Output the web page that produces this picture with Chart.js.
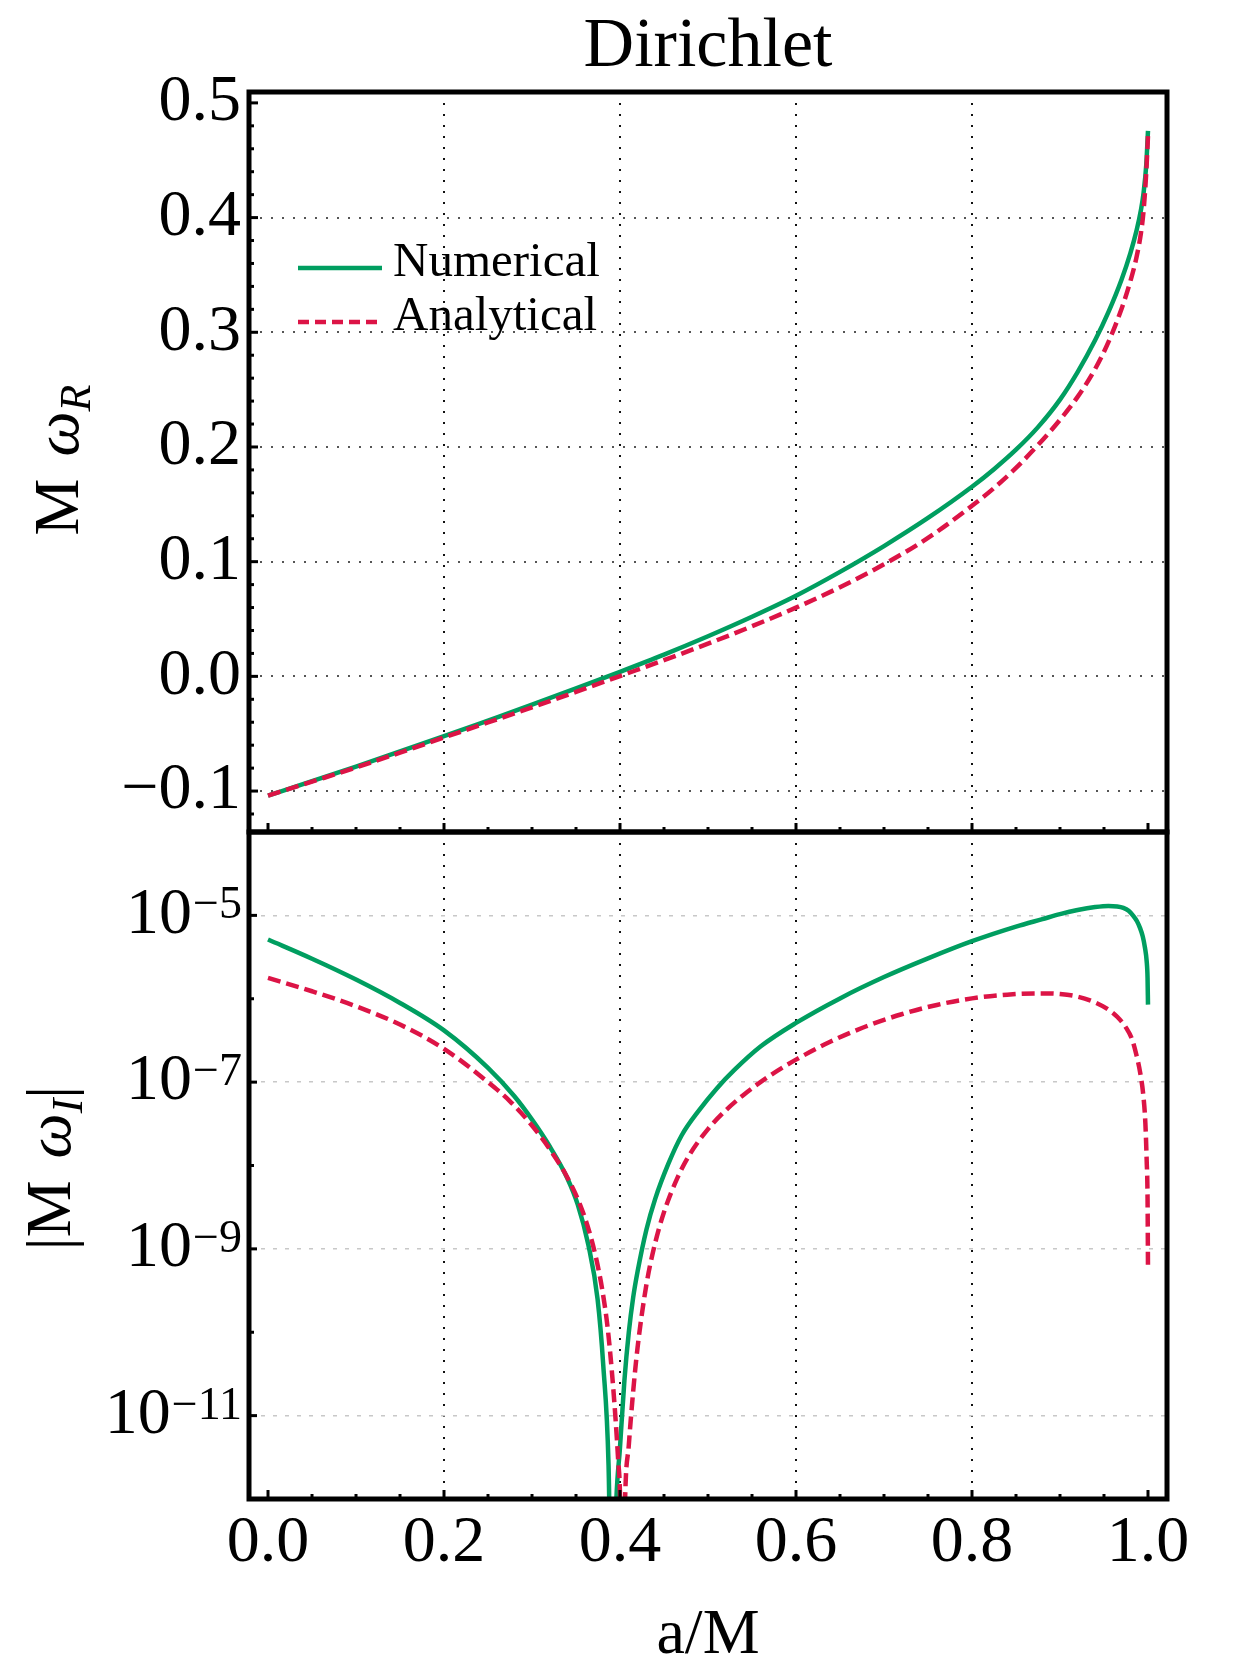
<!DOCTYPE html>
<html>
<head>
<meta charset="utf-8">
<title>Dirichlet</title>
<script src="https://cdn.jsdelivr.net/npm/chart.js@4.4.1/dist/chart.umd.min.js"></script>
<style>
  body { margin: 0; background: #fff; }
  #wrap { position: relative; width: 1250px; height: 1667px; }
  #wrap canvas { position: absolute; left: 0; top: 0; }
</style>
</head>
<body>
<div id="wrap">
  <canvas id="realChart" width="1250" height="1667"></canvas>
  <canvas id="imagChart" width="1250" height="1667"></canvas>
</div>
<script>
// ---- data ----
// top panel: M omega_R against a/M
const spinNumR = [0, 0.05, 0.1, 0.15, 0.2, 0.25, 0.3, 0.35, 0.4, 0.45, 0.5, 0.55, 0.6, 0.65, 0.7, 0.75, 0.8, 0.825, 0.85, 0.875,
  0.9, 0.92, 0.94, 0.955, 0.97, 0.98, 0.987, 0.992, 0.995, 0.998, 1];
const omegaNumR = [-0.104, -0.0914, -0.0786, -0.0655, -0.0522, -0.0385, -0.0247, -0.0105, 0.004, 0.019, 0.035, 0.052, 0.0703, 0.0911, 0.1136, 0.1381, 0.1653, 0.1806, 0.1976, 0.2173,
  0.2413, 0.2653, 0.2933, 0.3176, 0.3461, 0.3691, 0.3887, 0.4067, 0.4217, 0.4457, 0.4757];
const spinAnaR = [0, 0.05, 0.1, 0.15, 0.2, 0.25, 0.3, 0.35, 0.4, 0.45, 0.5, 0.55, 0.6, 0.65, 0.7, 0.75, 0.8, 0.825, 0.85, 0.875,
  0.9, 0.92, 0.94, 0.955, 0.97, 0.98, 0.987, 0.992, 0.995, 0.998, 1];
const omegaAnaR = [-0.104, -0.0918, -0.0795, -0.0665, -0.0533, -0.0402, -0.027, -0.0135, 0.0003, 0.0141, 0.0285, 0.0437, 0.0599, 0.0777, 0.0977, 0.1207, 0.1487, 0.1642, 0.1817, 0.2017,
  0.2237, 0.2437, 0.2681, 0.2914, 0.3206, 0.3446, 0.3656, 0.3866, 0.4061, 0.4391, 0.4711];

// bottom panel: |M omega_I| against a/M
const spinNumI = [0, 0.05, 0.1, 0.15, 0.2, 0.25, 0.28, 0.3, 0.32, 0.34, 0.352, 0.364, 0.3745, 0.381, 0.387, 0.3912,
  0.3955, 0.4, 0.405, 0.41, 0.415, 0.42, 0.43, 0.44, 0.455, 0.47, 0.49, 0.51, 0.53, 0.56, 0.6, 0.65, 0.7, 0.75, 0.8, 0.85,
  0.88, 0.9, 0.92, 0.94, 0.955, 0.965, 0.972, 0.978, 0.9833, 0.9875, 0.9909, 0.994, 0.9966, 0.9985, 0.9995, 1];
const omegaNumI = [5.13e-6, 3.02e-6, 1.7e-6, 8.91e-7, 4.17e-7, 1.48e-7, 6.76e-8, 3.55e-8, 1.7e-8, 7.08e-9, 3.39e-9, 1.12e-9, 2.51e-10, 3.98e-11, 2.51e-12, 1e-14,
  7.94e-13, 4.17e-12, 2.63e-11, 1.0e-10, 2.63e-10, 5.37e-10, 1.7e-9, 3.98e-9, 1.05e-8, 2.29e-8, 4.62e-8, 8.41e-8, 1.4e-7, 2.69e-7, 5.13e-7, 1.01e-6, 1.82e-6, 3.05e-6, 4.9e-6, 7.33e-6,
  9.02e-6, 1.035e-5, 1.16e-5, 1.26e-5, 1.3e-5, 1.28e-5, 1.23e-5, 1.135e-5, 9.89e-6, 8.51e-6, 7.08e-6, 5.62e-6, 4.07e-6, 2.82e-6, 1.78e-6, 8.51e-7];
const spinAnaI = [0, 0.05, 0.1, 0.15, 0.2, 0.25, 0.275, 0.3, 0.32, 0.34, 0.355, 0.365, 0.373, 0.38, 0.386, 0.391, 0.395, 0.398, 0.4, 0.4028,
  0.4057, 0.41, 0.415, 0.42, 0.43, 0.44, 0.45, 0.465, 0.48, 0.5, 0.52, 0.54, 0.57, 0.6, 0.64, 0.68, 0.72, 0.76, 0.8, 0.84,
  0.87, 0.885, 0.9, 0.92, 0.94, 0.955, 0.965, 0.975, 0.982, 0.987, 0.991, 0.9947, 0.997, 0.9985, 0.9995, 1];
const omegaAnaI = [1.78e-6, 1.23e-6, 8.13e-7, 4.9e-7, 2.51e-7, 1.0e-7, 5.89e-8, 3.02e-8, 1.58e-8, 7.24e-9, 3.31e-9, 1.62e-9, 7.59e-10, 3.16e-10, 1.12e-10, 3.16e-11, 8.91e-12, 2.82e-12, 1.12e-12, 1e-14,
  9.12e-13, 4.42e-12, 1.97e-11, 6.61e-11, 3.72e-10, 1.18e-9, 2.76e-9, 7.01e-9, 1.4e-8, 2.73e-8, 4.57e-8, 6.98e-8, 1.19e-7, 1.86e-7, 3.09e-7, 4.68e-7, 6.52e-7, 8.43e-7, 1.01e-6, 1.12e-6,
  1.16e-6, 1.16e-6, 1.14e-6, 1.06e-6, 9.01e-7, 7.4e-7, 6.08e-7, 4.51e-7, 3.24e-7, 2.09e-7, 1.32e-7, 6.92e-8, 3.24e-8, 1.15e-8, 4.07e-9, 5.89e-10];

// axis ticks
const spinTicks = [0, 0.2, 0.4, 0.6, 0.8, 1.0];
const realTicks = [-0.1, 0, 0.1, 0.2, 0.3, 0.4, 0.5];
const imagExps = [-5, -7, -9, -11];

const serif = "'Liberation Serif', 'Times New Roman', serif";
const green = '#009e60';
const crimson = '#dc1446';
const curveWidth = 4.5;
const curveDash = [13, 6];

Chart.defaults.color = '#000';
Chart.defaults.font.family = serif;

function toPoints(xs, ys) {
  return xs.map((x, i) => ({ x: x, y: ys[i] }));
}

function line(ctx, x1, y1, x2, y2) {
  ctx.beginPath();
  ctx.moveTo(x1, y1);
  ctx.lineTo(x2, y2);
  ctx.stroke();
}

// text pieces with sub/superscripts, left aligned on a baseline
function richWidth(ctx, parts) {
  let w = 0;
  parts.forEach((p) => {
    ctx.font = p.font;
    w += ctx.measureText(p.text).width + (p.gap || 0);
  });
  return w;
}
function drawRich(ctx, parts, x, y) {
  let cx = x;
  parts.forEach((p) => {
    ctx.font = p.font;
    ctx.fillText(p.text, cx, y + (p.dy || 0));
    cx += ctx.measureText(p.text).width + (p.gap || 0);
  });
}
function drawVerticalTitle(ctx, parts, baseX, centerY) {
  ctx.save();
  ctx.translate(baseX, centerY);
  ctx.rotate(-Math.PI / 2);
  ctx.textBaseline = 'alphabetic';
  ctx.textAlign = 'left';
  drawRich(ctx, parts, -richWidth(ctx, parts) / 2, 0);
  ctx.restore();
}

// x ticks pointing up into the panel
function drawSpinTicks(ctx, xs, yLine) {
  for (let i = 0; i <= 20; i++) {
    const x = xs.getPixelForValue(i * 0.05);
    line(ctx, x, yLine, x, yLine - (i % 4 === 0 ? 9 : 5));
  }
}

const realDecor = {
  id: 'realDecor',
  afterDraw(chart) {
    const ctx = chart.ctx;
    const a = chart.chartArea;
    const xs = chart.scales.x;
    const ys = chart.scales.y;
    ctx.save();
    ctx.strokeStyle = '#000';
    ctx.fillStyle = '#000';
    ctx.lineWidth = 3;
    for (let i = -6; i <= 25; i++) {
      const y = ys.getPixelForValue(i * 0.02);
      if (y < a.top + 2 || y > a.bottom - 2) continue;
      line(ctx, a.left, y, a.left + (i % 5 === 0 ? 9 : 5), y);
    }
    drawSpinTicks(ctx, xs, a.bottom);
    ctx.lineWidth = 5;
    ctx.strokeRect(a.left, a.top, a.right - a.left, a.bottom - a.top);

    // title
    ctx.font = '70px ' + serif;
    ctx.textAlign = 'center';
    ctx.textBaseline = 'alphabetic';
    ctx.fillText('Dirichlet', (a.left + a.right) / 2, 66);

    // legend
    ctx.lineWidth = curveWidth;
    ctx.strokeStyle = green;
    line(ctx, 298, 268, 382, 268);
    ctx.strokeStyle = crimson;
    ctx.setLineDash([11, 6]);
    line(ctx, 298, 322, 382, 322);
    ctx.setLineDash([]);
    ctx.font = '49px ' + serif;
    ctx.textAlign = 'left';
    ctx.fillText('Numerical', 393, 276);
    ctx.fillText('Analytical', 393, 330);

    drawVerticalTitle(ctx, [
      { text: 'M ', font: '64px ' + serif, gap: 6 },
      { text: 'ω', font: 'italic 64px ' + serif },
      { text: 'R', font: 'italic 44px ' + serif, dy: 12 },
    ], 78, 460);
    ctx.restore();
  },
};

const imagDecor = {
  id: 'imagDecor',
  afterDraw(chart) {
    const ctx = chart.ctx;
    const a = chart.chartArea;
    const xs = chart.scales.x;
    const ys = chart.scales.y;
    ctx.save();
    ctx.strokeStyle = '#000';
    ctx.fillStyle = '#000';
    ctx.lineWidth = 3;
    for (let e = -11; e <= -5; e++) {
      const y = ys.getPixelForValue(Math.pow(10, e));
      line(ctx, a.left, y, a.left + (e % 2 !== 0 ? 8 : 5), y);
    }
    drawSpinTicks(ctx, xs, a.bottom);
    ctx.lineWidth = 5;
    ctx.strokeRect(a.left, a.top, a.right - a.left, a.bottom - a.top);

    // 10^n tick labels
    const right = a.left - 7;
    imagExps.forEach((e) => {
      const y = ys.getPixelForValue(Math.pow(10, e));
      const expText = '−' + Math.abs(e);
      ctx.font = '46px ' + serif;
      const ew = ctx.measureText(expText).width;
      ctx.textAlign = 'left';
      ctx.textBaseline = 'alphabetic';
      ctx.fillText(expText, right - ew, y + 3);
      ctx.font = '66px ' + serif;
      const bw = ctx.measureText('10').width;
      ctx.textBaseline = 'middle';
      ctx.fillText('10', right - ew - bw - 1, y);
    });

    // x title
    ctx.font = '64px ' + serif;
    ctx.textAlign = 'center';
    ctx.textBaseline = 'alphabetic';
    ctx.fillText('a/M', (a.left + a.right) / 2, 1653);

    drawVerticalTitle(ctx, [
      { text: '|M ', font: '64px ' + serif, gap: 6 },
      { text: 'ω', font: 'italic 64px ' + serif },
      { text: 'I', font: 'italic 44px ' + serif, dy: 12 },
      { text: '|', font: '64px ' + serif },
    ], 70, 1168);
    ctx.restore();
  },
};

const dotted = [2, 9];

function spinScale(showLabels, height) {
  return {
    type: 'linear',
    min: -0.0216,
    max: 1.0216,
    afterBuildTicks: (axis) => {
      axis.ticks = spinTicks.map((v) => ({ value: v }));
    },
    afterFit: (axis) => {
      axis.height = height;
    },
    grid: {
      color: (c) => (c.tick && c.tick.value > 0.01 && c.tick.value < 0.99 ? '#111' : 'rgba(0,0,0,0)'),
      lineWidth: 2,
      drawTicks: false,
    },
    border: { display: false, dash: dotted },
    ticks: {
      display: showLabels,
      autoSkip: false,
      maxRotation: 0,
      padding: 5,
      font: { size: 66, family: serif, lineHeight: 1.2 },
      callback: (v) => Number(v).toFixed(1),
    },
  };
}

function curve(label, xs, ys, color, dash, order) {
  return {
    label: label,
    data: toPoints(xs, ys),
    borderColor: color,
    borderWidth: curveWidth,
    borderDash: dash,
    pointRadius: 0,
    cubicInterpolationMode: 'monotone',
    order: order,
  };
}

const realConfig = {
  type: 'line',
  data: {
    datasets: [
      curve('Numerical', spinNumR, omegaNumR, green, [], 2),
      curve('Analytical', spinAnaR, omegaAnaR, crimson, curveDash, 1),
    ],
  },
  options: {
    responsive: false,
    animation: false,
    layout: { padding: { left: 0, right: 83, top: 92, bottom: 0 } },
    plugins: { legend: { display: false }, tooltip: { enabled: false } },
    scales: {
      x: spinScale(false, 835),
      y: {
        type: 'linear',
        min: -0.1357,
        max: 0.5095,
        afterBuildTicks: (axis) => {
          axis.ticks = realTicks.map((v) => ({ value: v }));
        },
        afterFit: (axis) => {
          axis.width = 249;
        },
        grid: {
          color: (c) => (c.tick && c.tick.value < 0.45 ? '#555' : 'rgba(0,0,0,0)'),
          lineWidth: 2,
          drawTicks: false,
        },
        border: { display: false, dash: dotted },
        ticks: {
          padding: 8,
          font: { size: 66, family: serif },
          callback: (v) => (v < -1e-9 ? '−' : '') + Math.abs(v).toFixed(1),
        },
      },
    },
  },
  plugins: [realDecor],
};

const imagConfig = {
  type: 'line',
  data: {
    datasets: [
      curve('Numerical', spinNumI, omegaNumI, green, [], 2),
      curve('Analytical', spinAnaI, omegaAnaI, crimson, curveDash, 1),
    ],
  },
  options: {
    responsive: false,
    animation: false,
    layout: { padding: { left: 0, right: 83, top: 832, bottom: 0 } },
    plugins: { legend: { display: false }, tooltip: { enabled: false } },
    scales: {
      x: spinScale(true, 168),
      y: {
        type: 'logarithmic',
        min: 1e-12,
        max: 1e-4,
        afterBuildTicks: (axis) => {
          axis.ticks = imagExps.map((e) => ({ value: Math.pow(10, e) }));
        },
        afterFit: (axis) => {
          axis.width = 249;
        },
        grid: {
          color: '#c8c8c8',
          lineWidth: 1.5,
          drawTicks: false,
        },
        border: { display: false, dash: [4, 8] },
        ticks: { display: false },
      },
    },
  },
  plugins: [imagDecor],
};

new Chart(document.getElementById('realChart'), realConfig);
new Chart(document.getElementById('imagChart'), imagConfig);
</script>
</body>
</html>
